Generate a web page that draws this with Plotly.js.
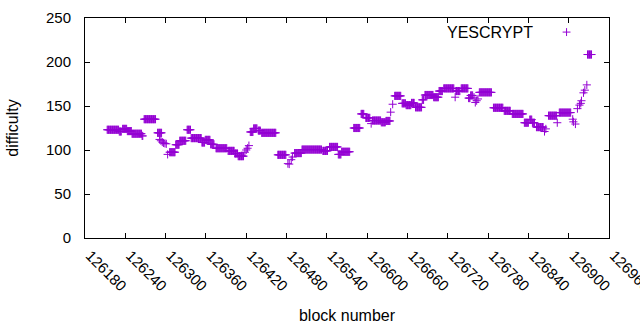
<!DOCTYPE html>
<html>
<head>
<meta charset="utf-8">
<script src="https://cdn.plot.ly/plotly-3.0.1.min.js"></script>
<style>html,body{margin:0;padding:0;background:#fff;}#chart{width:640px;height:330px;}</style>
</head>
<body>
<div id="chart"></div>
<script>
// Runs of blocks sharing the same difficulty
const runStart = [126213,126231,126236,126243,126250,126265,126268,126288,126291,126293,126295,126297,126299,126301,126303,126306,126315,126321,126332,126338,126354,126359,126367,126375,126393,126403,126408,126418,126420,126422,126424,126426,126431,126438,126443,126467,126482,126484,126487,126489,126492,126503,126534,126544,126557,126562,126580,126591,126598,126606,126608,126621,126628,126635,126638,126641,126652,126658,126666,126672,126682,126686,126699,126707,126714,126731,126732,126740,126751,126754,126759,126761,126763,126765,126767,126788,126804,126816,126834,126842,126846,126852,126864,126866,126870,126883,126886,126906,126907,126910,126913,126916,126918,126919,126922,126924,126927,126928];
const runEnd   = [126230,126234,126242,126249,126264,126266,126285,126294,126291,126293,126295,126297,126299,126301,126303,126314,126320,126330,126337,126353,126358,126366,126372,126391,126402,126407,126416,126418,126420,126422,126424,126430,126436,126441,126464,126479,126482,126484,126487,126489,126502,126532,126541,126556,126561,126574,126589,126595,126604,126606,126620,126627,126634,126635,126638,126650,126657,126665,126670,126681,126684,126698,126706,126712,126729,126731,126738,126750,126753,126757,126759,126761,126763,126765,126785,126802,126813,126832,126840,126845,126849,126862,126864,126866,126882,126883,126903,126906,126907,126910,126913,126916,126918,126919,126922,126924,126927,126934];
const runValue = [123,121,124,121.5,118.5,116,135,119.5,112,110.5,109,108,107.5,107,95,97.5,106,110.5,123,113.5,108.5,111.5,106.5,102,99,96,93,97.5,100,102,105,120.5,124.5,122,119.5,94.5,84.5,84,89,92,96.5,100.5,99,103.5,95,98,125,141,136.5,130,133.5,131.5,133,143,152,161.5,153,151,153.5,148.5,157,162.5,160,167,170,160,167,170,159,162,160,154,156,158,165.5,148,144.5,141,131,134.5,131,126,121,124,139,131,142.5,135,132,129.5,147,151,153,156,165,168,174,208.5];

const xTicks = [126180,126240,126300,126360,126420,126480,126540,126600,126660,126720,126780,126840,126900,126960];
const yTicks = [0,50,100,150,200,250];
const seriesName = 'YESCRYPT';

const xs = [], ys = [];
for (let i = 0; i < runStart.length; i++) {
  for (let b = runStart[i]; b <= runEnd[i]; b++) { xs.push(b); ys.push(runValue[i]); }
}

const color = '#9400D3';
const family = '"Liberation Sans", Arial, sans-serif';
const tickFont = {family: family, size: 15, color: '#000'};
const titleFont = {family: family, size: 16, color: '#000'};

const trace = {
  x: xs, y: ys, type: 'scatter', mode: 'markers', name: seriesName,
  marker: {symbol: 'cross-thin-open', size: 5.8, color: color, line: {color: color, width: 1}},
  showlegend: false, hoverinfo: 'skip'
};

const axisCommon = {
  showline: true, linecolor: '#000', linewidth: 1, mirror: 'allticks',
  ticks: 'inside', ticklen: 5, tickwidth: 1, tickcolor: '#000',
  showgrid: false, zeroline: false, tickfont: tickFont, automargin: false
};

const layout = {
  width: 640, height: 330,
  margin: {l: 84.5, r: 30.5, t: 18, b: 92},
  paper_bgcolor: '#fff', plot_bgcolor: '#fff',
  font: titleFont,
  xaxis: Object.assign({}, axisCommon, {
    range: [126180, 126960], tickmode: 'array', tickvals: xTicks, ticktext: xTicks.map(String),
    tickangle: 45, ticklabeloverflow: 'allow', ticklabelstandoff: 2, ticklabelshift: 5,
    title: {text: 'block number', font: titleFont, standoff: 16}
  }),
  yaxis: Object.assign({}, axisCommon, {
    range: [0, 250], tickmode: 'array', tickvals: yTicks, ticktext: yTicks.map(String),
    ticklabelstandoff: 10,
    title: {text: 'difficulty', font: titleFont, standoff: 23}
  }),
  annotations: [{
    xref: 'paper', yref: 'paper', x: 0.859, y: 0.936, xanchor: 'right', yanchor: 'middle',
    text: seriesName, showarrow: false, font: titleFont
  }],
  shapes: [
    {type: 'line', xref: 'paper', yref: 'paper', x0: 0.9115, x1: 0.9265, y0: 0.936, y1: 0.936, line: {color: color, width: 1}},
    {type: 'line', xref: 'paper', yref: 'paper', x0: 0.919, x1: 0.919, y0: 0.918, y1: 0.954, line: {color: color, width: 1}}
  ]
};

Plotly.newPlot('chart', [trace], layout, {staticPlot: true, displayModeBar: false});
</script>
</body>
</html>
